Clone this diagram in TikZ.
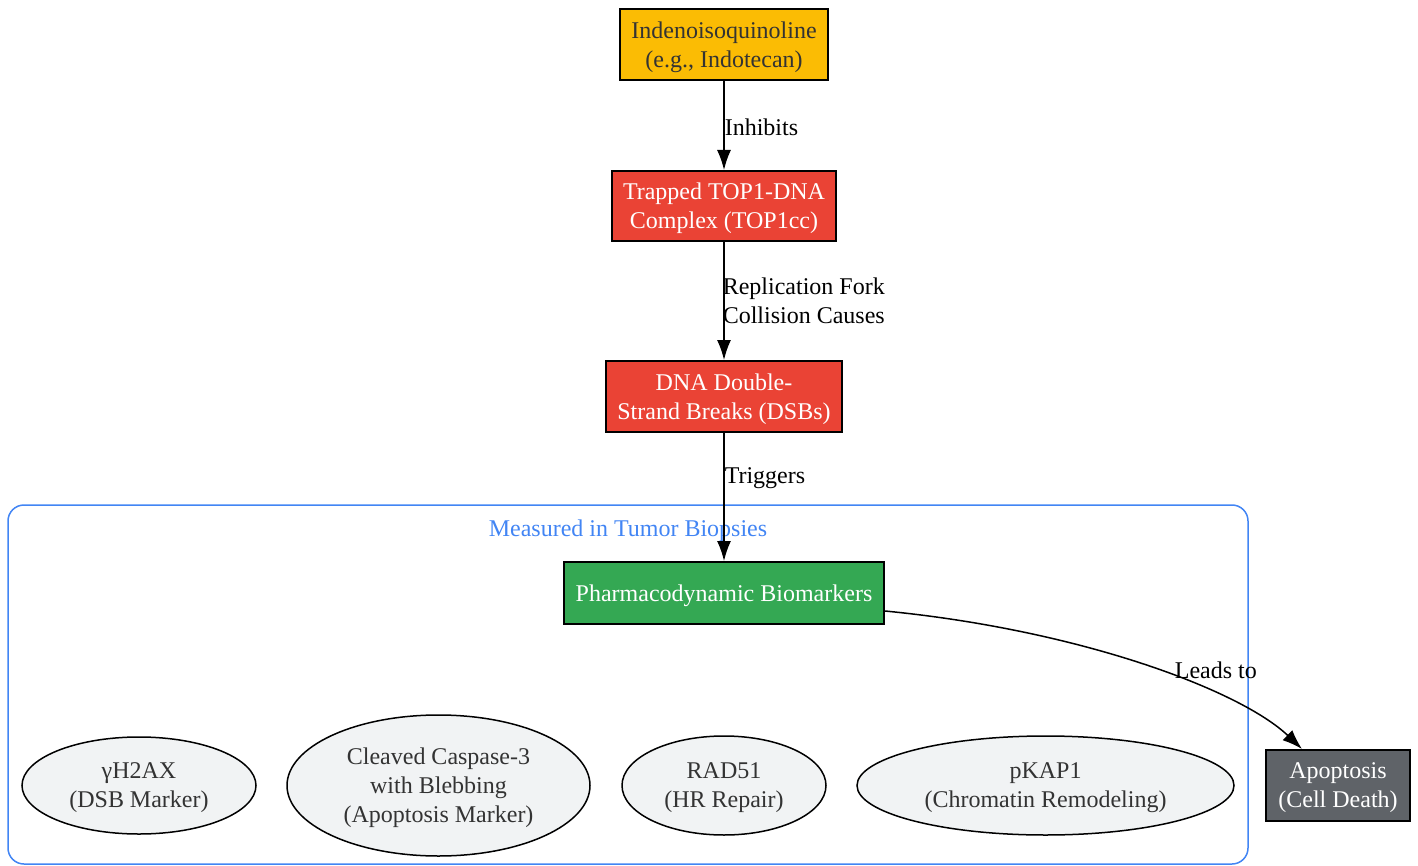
\documentclass[tikz,border=0pt]{standalone}
\usepackage{fontspec}
\setmainfont{Liberation Serif}
\usetikzlibrary{
  arrows.meta,
  shapes.geometric,
  positioning
}
\definecolor{drugyellow}{HTML}{FBBC04}
\definecolor{damagered}{HTML}{EA4335}
\definecolor{markergreen}{HTML}{34A853}
\definecolor{deathgrey}{HTML}{5F6368}
\definecolor{markerfill}{HTML}{F1F3F4}
\definecolor{clusterblue}{HTML}{4285F4}
\definecolor{darktext}{HTML}{333333}

\begin{document}
\begin{tikzpicture}[
      x=0.5pt, y=-0.5pt,
      every node/.style={font=\fontsize{12}{14.5}\selectfont},
      stepbox/.style={
         rectangle,
         draw=black,
         line width=1pt,
         align=center,
         inner sep=0pt,
         text depth=0pt,
         minimum height=35.5pt
      },
      drug/.style={stepbox, fill=drugyellow, text=darktext},
      damage/.style={stepbox, fill=damagered, text=white},
      readout/.style={stepbox, fill=markergreen, text=white, minimum height=31pt},
      outcome/.style={stepbox, fill=deathgrey, text=white},
      marker/.style={
         ellipse,
         draw=black,
         line width=0.75pt,
         fill=markerfill,
         text=darktext,
         align=center,
         inner sep=0pt,
         text depth=0pt,
         minimum height=49.5pt
      },
      edgelabel/.style={anchor=west, align=left, inner sep=0pt, text=black},
      >={Latex[length=10pt,width=7pt]},
      tip/.style={->, line width=0.75pt},
      cluster/.style={draw=clusterblue, line width=0.75pt, rounded corners=8pt}
    ]
    \useasboundingbox (0,0) rectangle (1418,866);

    % biopsy cluster
    \draw[cluster] (8,505) rectangle (1248,864);
    \node (clusterlabel) [text=clusterblue] at (628,531) {Measured in Tumor Biopsies};

    % main pathway
    \node (indeno) [drug, minimum width=104pt] at (724,44.5)
       {Indenoisoquinoline\\(e.g., Indotecan)};
    \node (top1cc) [damage, minimum width=112pt, minimum height=35pt] at (724,206)
       {Trapped TOP1-DNA\\Complex (TOP1cc)};
    \node (dsb) [damage, minimum width=118pt] at (724,396.5)
       {DNA Double-\\Strand Breaks (DSBs)};
    \node (pd) [readout, minimum width=160pt] at (724,593)
       {Pharmacodynamic Biomarkers};
    \node (apop) [outcome, minimum width=72pt] at (1338,785.5)
       {Apoptosis\\(Cell Death)};

    % biomarkers
    \node (h2ax) [marker, minimum width=117pt, minimum height=48.5pt] at (139,785.5)
       {γH2AX\\(DSB Marker)};
    \node (casp) [marker, minimum width=151.5pt, minimum height=70.5pt] at (438.5,785.5)
       {Cleaved Caspase-3\\with Blebbing\\(Apoptosis Marker)};
    \node (rad51) [marker, minimum width=102pt] at (724,785.5)
       {RAD51\\(HR Repair)};
    \node (pkap1) [marker, minimum width=188.5pt] at (1045.5,785.5)
       {pKAP1\\(Chromatin Remodeling)};

    % connectors
    \draw[tip] (indeno) -- node[edgelabel, yshift=-1pt] {Inhibits} (top1cc);
    \draw[tip] (top1cc) -- node[edgelabel, xshift=-1pt] {Replication Fork\\Collision Causes} (dsb);
    \draw[tip] (dsb) -- node[edgelabel, pos=0.35] {Triggers} (pd);
    \draw[tip] ([yshift=-9pt]pd.east) .. controls (1080,630) and (1240,690) ..
       node[pos=0.67, above=6pt, inner sep=0pt, xshift=2.5pt] {Leads to} ([xshift=-18pt]apop.north);
\end{tikzpicture}
\end{document}
